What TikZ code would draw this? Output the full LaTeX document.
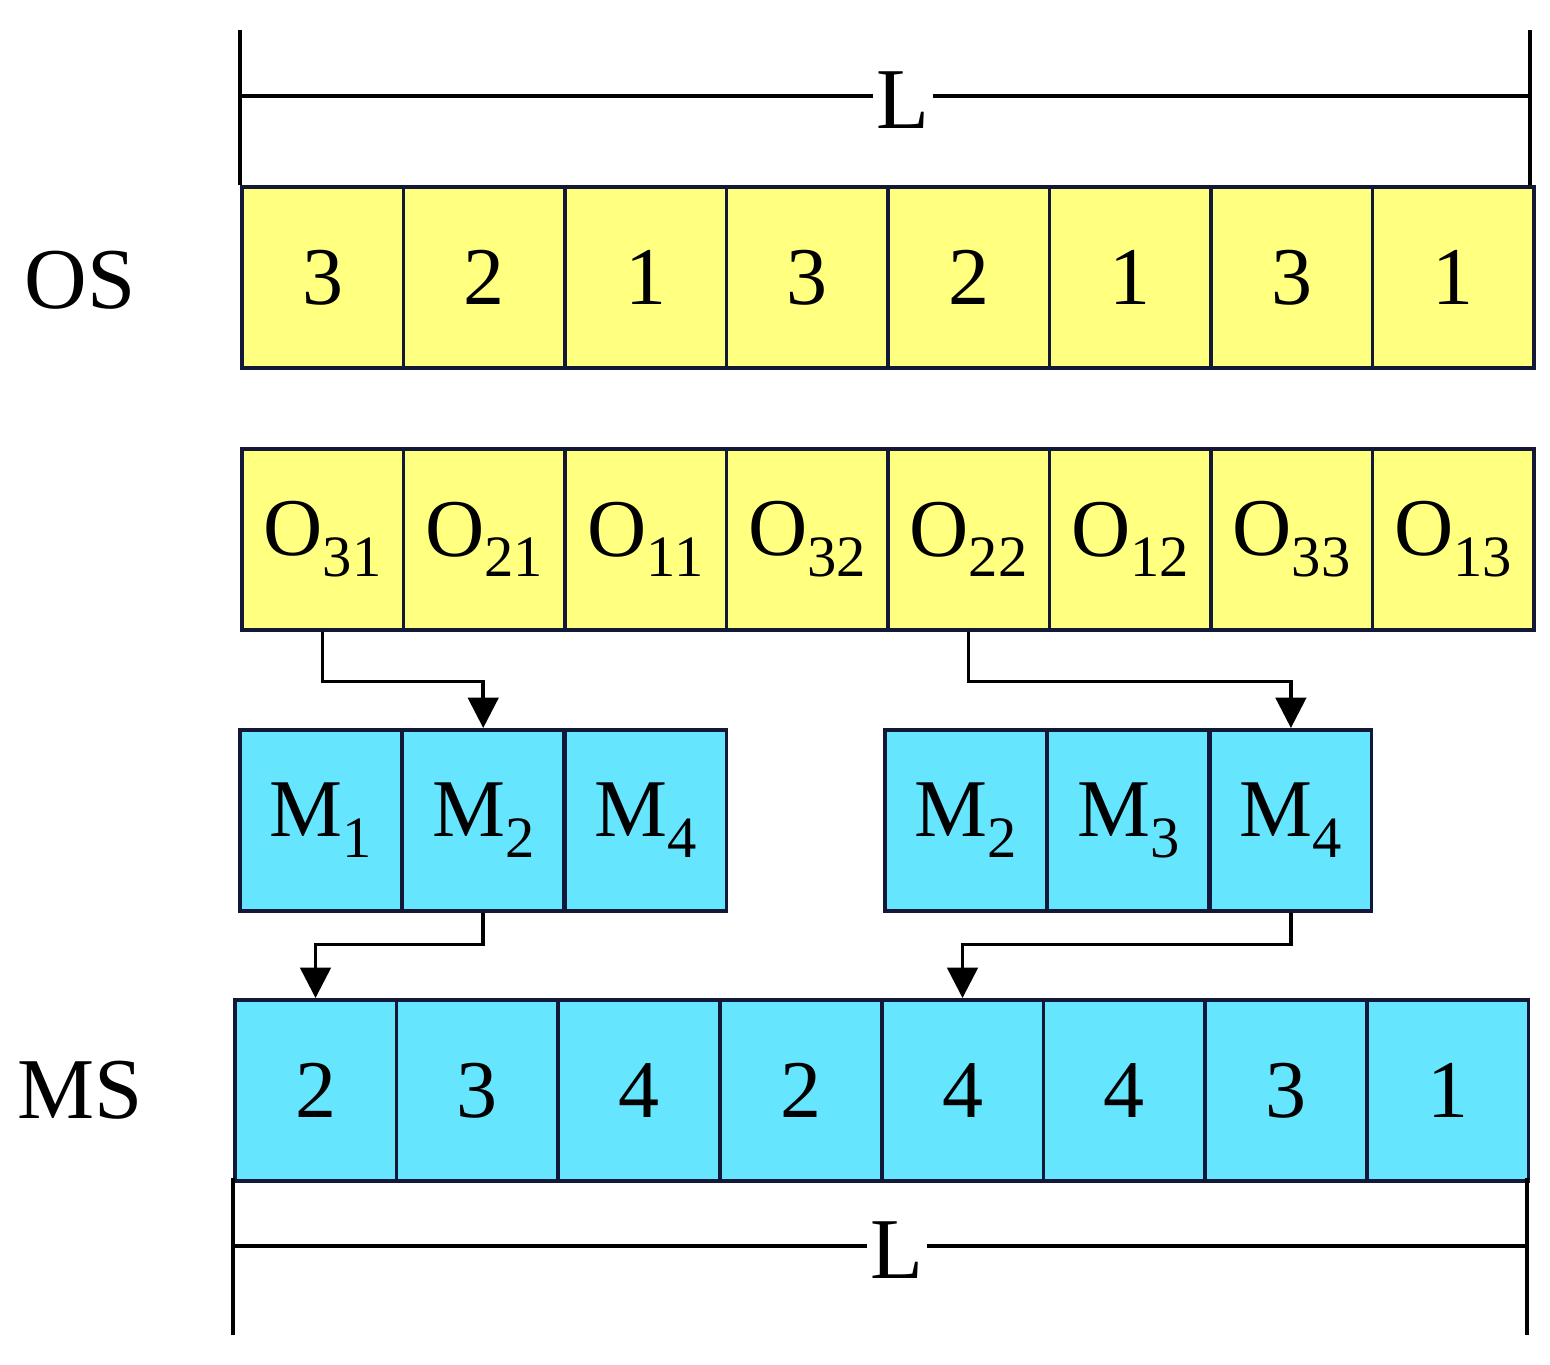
\documentclass[tikz,border=0pt]{standalone}
\usepackage{fontspec}
\setmainfont{Liberation Serif}
\usetikzlibrary{arrows.meta}
\definecolor{yel}{HTML}{FFFF80}
\definecolor{cya}{HTML}{66E5FF}
\definecolor{edge}{HTML}{141838}
\tikzset{
 cell/.style={draw=edge,line width=3pt,minimum width=161.5*0.03cm,minimum height=181*0.03cm,inner sep=0pt,font=\fontsize{70}{74}\selectfont,anchor=north west},
 ycell/.style={cell,fill=yel},
 ccell/.style={cell,fill=cya},
 conn/.style={line width=3pt,-{Triangle[length=26pt,width=26pt]}},
 dim/.style={line width=3pt},
 lab/.style={font=\fontsize{74}{78}\selectfont}
}
\begin{document}
\begin{tikzpicture}[x=0.03cm,y=-0.03cm]
\useasboundingbox (0,0) rectangle (1550,1364);
% dimension top
\draw[dim] (240,30) -- (240,185);
\draw[dim] (1530,30) -- (1530,185);
\node[lab,inner sep=3pt] (Lt) at (903,100) {L};
\draw[dim] (240,96) -- (Lt.west |- 0,96);
\draw[dim] (Lt.east |- 0,96) -- (1530,96);
% OS row
\node[lab] (OS) at (80,280) {OS};
\foreach \v [count=\i from 0] in {3,2,1,3,2,1,3,1}
  \node[ycell] (os\i) at (240+\i*161.5,185) {\v};
% O row
\foreach \a/\b [count=\i from 0] in {3/1,2/1,1/1,3/2,2/2,1/2,3/3,1/3}
  \node[ycell] (o\i) at (240+\i*161.5,447) {O\raisebox{-0.25em}{\fontsize{50}{54}\selectfont\a\b}};
% M left
\foreach \m [count=\i from 0] in {1,2,4}
  \node[ccell] (ml\i) at (238+\i*162.7,728) {M\raisebox{-0.25em}{\fontsize{50}{54}\selectfont\m}};
\foreach \m [count=\i from 0] in {2,3,4}
  \node[ccell] (mr\i) at (883+\i*162.7,728) {M\raisebox{-0.25em}{\fontsize{50}{54}\selectfont\m}};
% MS row
\node[lab] (MS) at (80,1090) {MS};
\foreach \v [count=\i from 0] in {2,3,4,2,4,4,3,1}
  \node[ccell] (ms\i) at (233+\i*161.75,998) {\v};
% connectors
\draw[conn] (o0.south) -- ++(0,50) -| (ml1.north);
\draw[conn] (o4.south) -- ++(0,50) -| (mr2.north);
\draw[conn] (ml1.south) -- ++(0,32) -| (ms0.north);
\draw[conn] (mr2.south) -- ++(0,32) -| (ms4.north);
% dimension bottom
\draw[dim] (233,1178) -- (233,1335);
\draw[dim] (1527,1178) -- (1527,1335);
\node[lab,inner sep=3pt] (Lb) at (897,1250) {L};
\draw[dim] (233,1246) -- (Lb.west |- 0,1246);
\draw[dim] (Lb.east |- 0,1246) -- (1527,1246);
\end{tikzpicture}
\end{document}
